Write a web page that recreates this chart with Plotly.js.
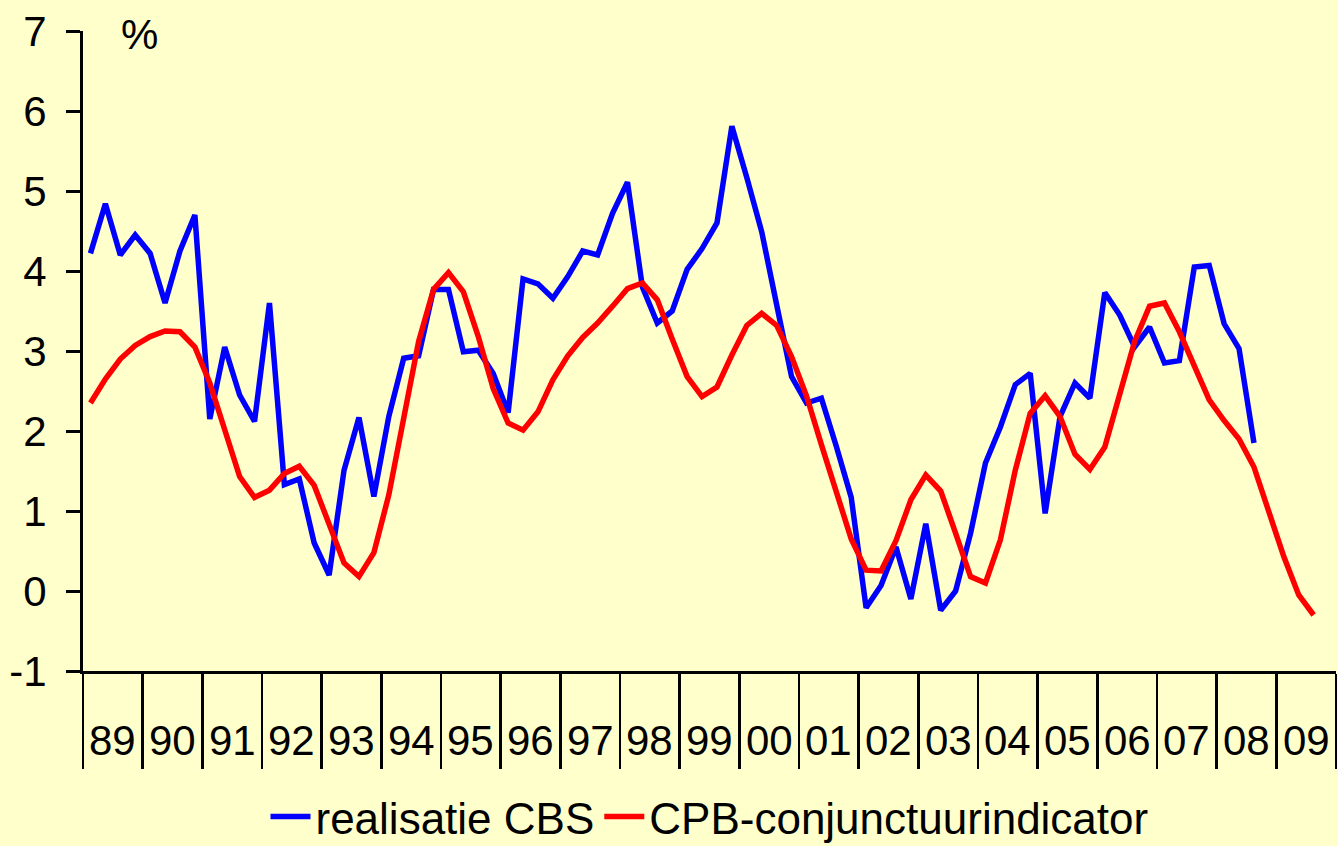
<!DOCTYPE html>
<html>
<head>
<meta charset="utf-8">
<script src="https://cdn.plot.ly/plotly-3.0.1.min.js"></script>
<style>
  html, body { margin: 0; padding: 0; background: #FFFFCC; }
  #chart { width: 1338px; height: 846px; }
</style>
</head>
<body>
<div id="chart"></div>
<script>
// Year labels (1989 .. 2009), one per year
const yearLabels = ["89","90","91","92","93","94","95","96","97","98","99","00","01","02","03","04","05","06","07","08","09"];

// Y-axis tick values and labels
const yTickVals = [-1, 0, 1, 2, 3, 4, 5, 6, 7];
const yTickText = ["-1", "0", "1", "2", "3", "4", "5", "6", "7"];

// Quarterly growth, realisatie CBS (1989Q1 .. 2008Q3), %
const realisatieCBS = [
  4.22, 4.84, 4.20, 4.45,
  4.22, 3.60, 4.25, 4.70,
  2.15, 3.05, 2.45, 2.12,
  3.60, 1.33, 1.40, 0.60,
  0.20, 1.51, 2.17, 1.18,
  2.18, 2.91, 2.94, 3.77,
  3.77, 2.99, 3.01, 2.72,
  2.23, 3.90, 3.84, 3.66,
  3.93, 4.25, 4.20, 4.72,
  5.11, 3.80, 3.35, 3.50,
  4.02, 4.28, 4.60, 5.81,
  5.17, 4.49, 3.58, 2.68,
  2.35, 2.41, 1.81, 1.17,
  -0.21, 0.07, 0.55, -0.10,
  0.84, -0.24, 0.00, 0.72,
  1.60, 2.05, 2.58, 2.72,
  0.97, 2.18, 2.60, 2.41,
  3.73, 3.45, 3.05, 3.30,
  2.85, 2.88, 4.05, 4.07,
  3.34, 3.03, 1.85
];

// Quarterly CPB-conjunctuurindicator (1989Q1 .. 2009Q3), %
const cpbIndicator = [
  2.35, 2.65, 2.90, 3.07,
  3.18, 3.25, 3.24, 3.05,
  2.60, 1.99, 1.43, 1.17,
  1.26, 1.47, 1.56, 1.32,
  0.83, 0.35, 0.18, 0.48,
  1.20, 2.14, 3.12, 3.77,
  3.98, 3.74, 3.18, 2.53,
  2.10, 2.01, 2.24, 2.64,
  2.94, 3.17, 3.35, 3.56,
  3.78, 3.85, 3.64, 3.15,
  2.68, 2.43, 2.55, 2.95,
  3.32, 3.47, 3.32, 2.93,
  2.44, 1.83, 1.23, 0.65,
  0.26, 0.25, 0.63, 1.14,
  1.45, 1.25, 0.72, 0.18,
  0.10, 0.64, 1.51, 2.22,
  2.44, 2.18, 1.71, 1.52,
  1.80, 2.45, 3.12, 3.56,
  3.60, 3.24, 2.80, 2.39,
  2.13, 1.90, 1.55, 1.01,
  0.43, -0.05, -0.30
];

const seriesNames = ["realisatie CBS", "CPB-conjunctuurindicator"];

// x position of a quarter: centre of the quarter in "years since 1989"
const qx = (arr) => arr.map((_, i) => (i + 0.5) / 4);

const FONT = "Liberation Sans, Arial, Helvetica, sans-serif";

const traces = [
  {
    x: qx(realisatieCBS), y: realisatieCBS, name: seriesNames[0],
    type: "scatter", mode: "lines",
    line: { color: "#0000FF", width: 5.5 }
  },
  {
    x: qx(cpbIndicator), y: cpbIndicator, name: seriesNames[1],
    type: "scatter", mode: "lines",
    line: { color: "#FF0000", width: 5.5 }
  }
];

const yearBounds = yearLabels.map((_, i) => i).concat([yearLabels.length]);

const annotations = yearLabels.map((lab, i) => ({
  x: i + 0.5, xref: "x",
  y: -0.108, yref: "paper",
  text: lab, showarrow: false,
  xanchor: "center", yanchor: "middle",
  font: { family: FONT, size: 42, color: "#000" }
}));
annotations.push({
  x: 0.0447, xref: "paper", y: 0.995, yref: "paper",
  text: "%", showarrow: false, xanchor: "center", yanchor: "middle",
  font: { family: FONT, size: 42, color: "#000" }
});

const layout = {
  width: 1338, height: 846,
  paper_bgcolor: "#FFFFCC", plot_bgcolor: "#FFFFCC",
  margin: { l: 83, r: 2, t: 31, b: 175, pad: 0, autoexpand: false },
  font: { family: FONT, size: 42, color: "#000" },
  showlegend: true,
  legend: {
    orientation: "h", x: 0.5, xanchor: "center",
    y: -0.228, yanchor: "middle",
    bgcolor: "rgba(0,0,0,0)",
    font: { family: FONT, size: 44, color: "#000" },
    itemwidth: 40
  },
  xaxis: {
    range: [0, yearLabels.length],
    showgrid: false, zeroline: false,
    showline: true, linecolor: "#000", linewidth: 3,
    ticks: "outside", tickmode: "array", tickvals: yearBounds,
    ticklen: 95, tickwidth: 2.5, tickcolor: "#000",
    showticklabels: false, fixedrange: true
  },
  yaxis: {
    range: [-1, 7],
    showgrid: false, zeroline: false,
    showline: true, linecolor: "#000", linewidth: 3,
    ticks: "outside", tickmode: "array", tickvals: yTickVals, ticktext: yTickText,
    ticklen: 14, tickwidth: 3, tickcolor: "#000",
    tickfont: { family: FONT, size: 42, color: "#000" },
    ticklabelstandoff: 11,
    fixedrange: true
  },
  annotations: annotations
};

Plotly.newPlot("chart", traces, layout, { staticPlot: true, displayModeBar: false });
</script>
</body>
</html>
